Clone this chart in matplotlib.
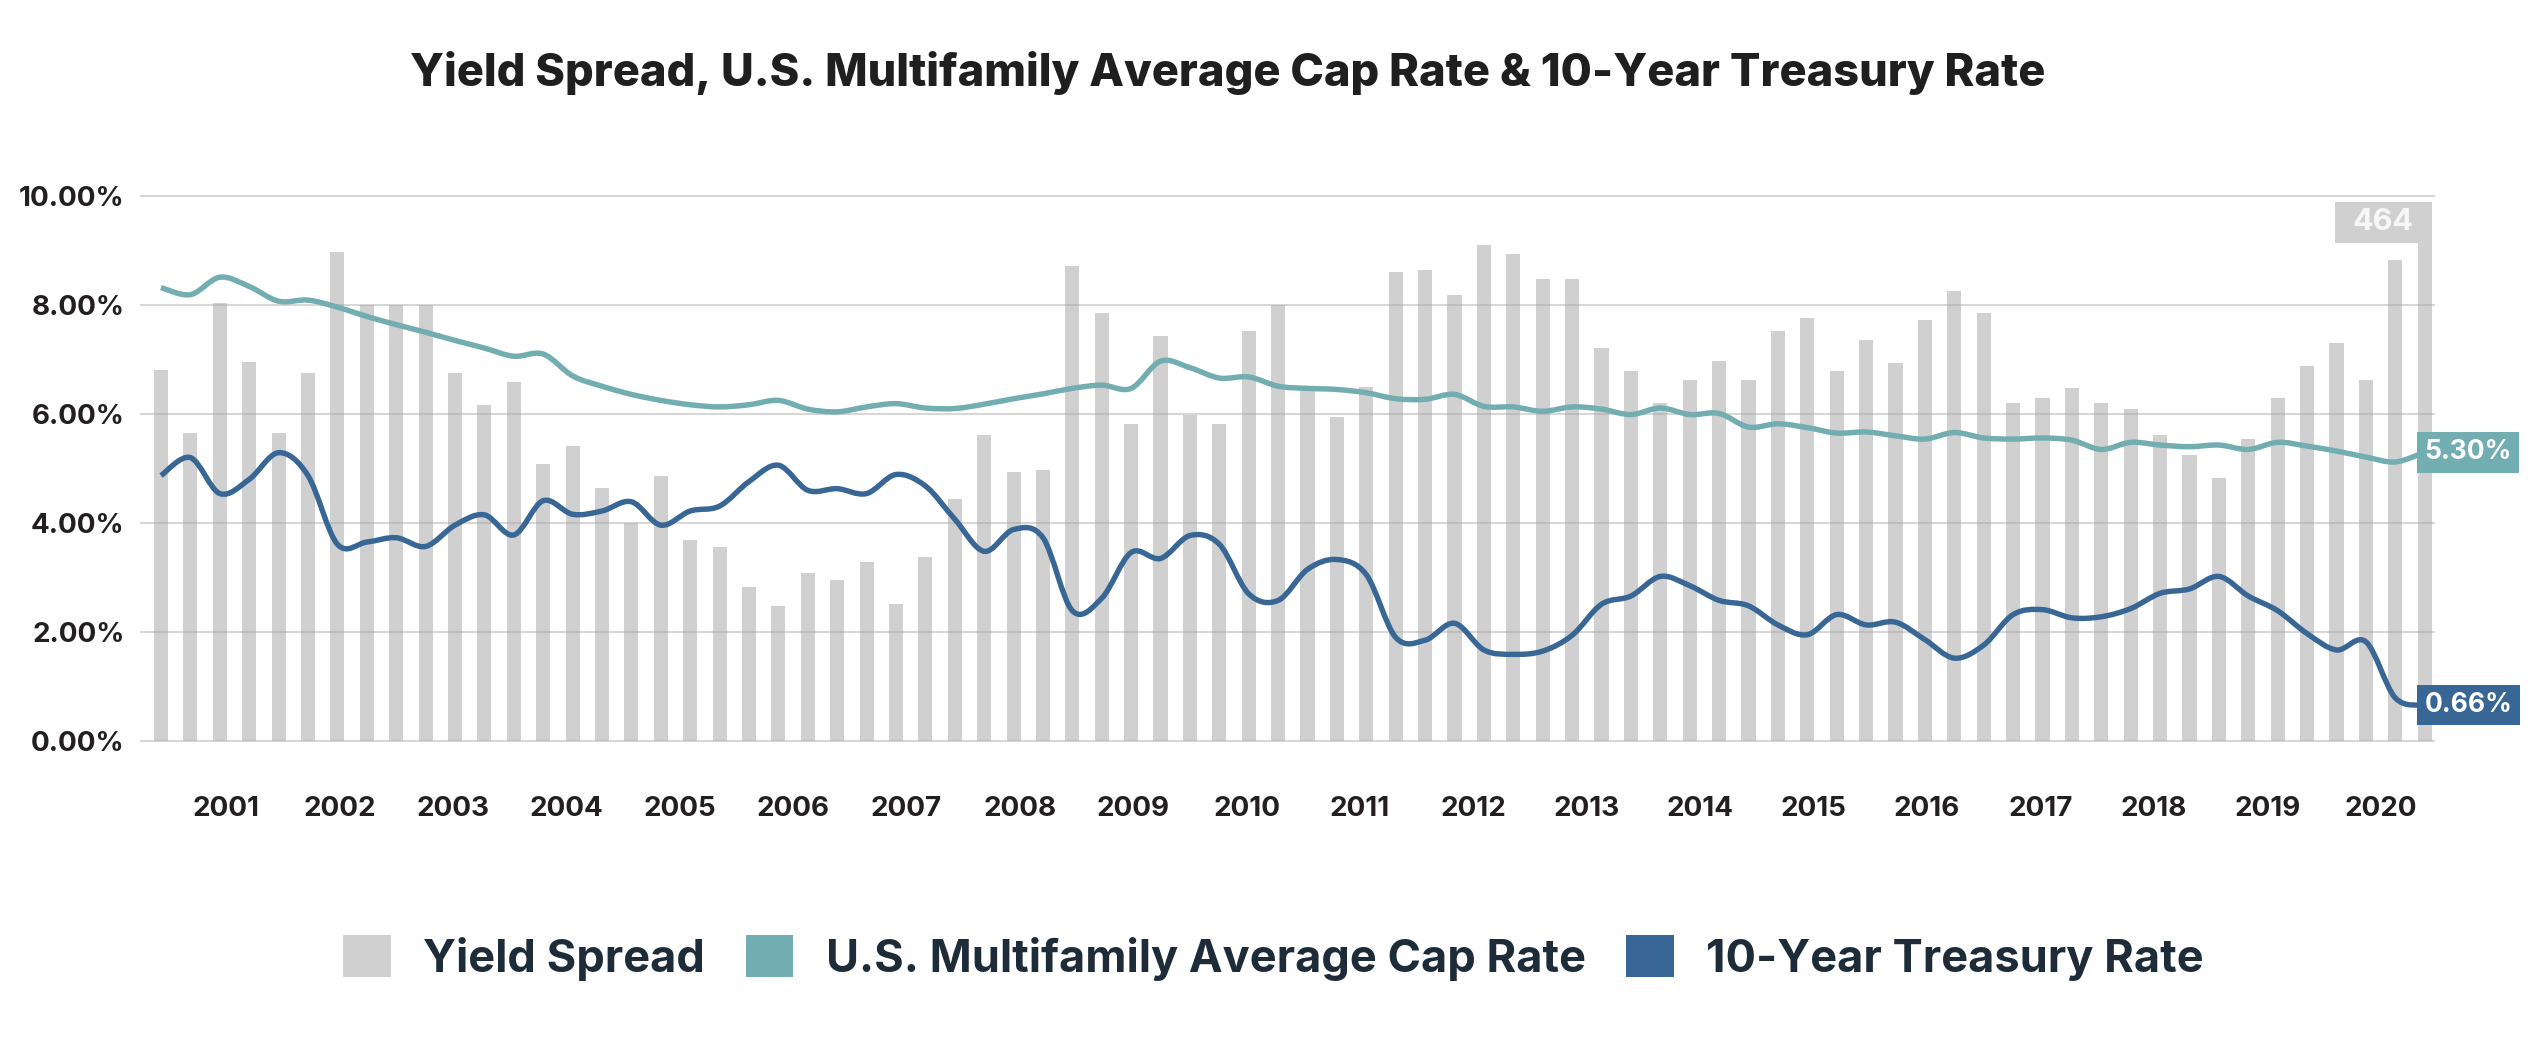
import numpy as np
import matplotlib
matplotlib.use("Agg")
import matplotlib.pyplot as plt
from matplotlib.path import Path
from matplotlib.patches import PathPatch, Patch, Rectangle

FONT = ['Inter', 'Lato', 'DejaVu Sans']
plt.rcParams['font.family'] = FONT

# ---------------- data ----------------
years = [str(y) for y in range(2001, 2021)]

# Yield spread (bps), one bar per quarter
spread_bps = [340, 283, 402, 348, 283, 338, 449, 400, 400, 400,
              338, 308, 329, 254, 271, 232, 200, 243, 184, 178,
              141, 124, 154, 148, 164, 126, 169, 222, 281, 247,
              249, 436, 393, 291, 372, 299, 291, 376, 400, 322,
              297, 325, 430, 432, 409, 455, 447, 424, 424, 361,
              339, 310, 331, 349, 331, 376, 388, 339, 368, 347,
              386, 413, 393, 310, 315, 324, 310, 305, 281, 262,
              241, 277, 315, 344, 365, 331, 441, 464]

# U.S. Multifamily average cap rate (%)
cap_rate = [8.32, 8.19, 8.51, 8.34, 8.07, 8.09, 7.96, 7.79, 7.64, 7.50,
            7.35, 7.21, 7.06, 7.10, 6.70, 6.51, 6.36, 6.25, 6.17, 6.13,
            6.17, 6.25, 6.09, 6.04, 6.13, 6.19, 6.11, 6.10, 6.18, 6.28,
            6.37, 6.47, 6.53, 6.47, 6.97, 6.85, 6.66, 6.68, 6.51, 6.47,
            6.45, 6.39, 6.28, 6.27, 6.36, 6.14, 6.13, 6.05, 6.13, 6.09,
            5.99, 6.11, 5.99, 6.01, 5.76, 5.82, 5.75, 5.65, 5.67, 5.60,
            5.54, 5.66, 5.56, 5.54, 5.56, 5.52, 5.35, 5.48, 5.43, 5.40,
            5.43, 5.35, 5.48, 5.41, 5.32, 5.21, 5.12, 5.30]

# 10-Year Treasury rate (%)
treasury = [4.87, 5.20, 4.54, 4.80, 5.29, 4.87, 3.61, 3.65, 3.73, 3.57,
            3.96, 4.15, 3.78, 4.41, 4.16, 4.22, 4.39, 3.96, 4.22, 4.31,
            4.76, 5.06, 4.60, 4.63, 4.54, 4.89, 4.68, 4.07, 3.48, 3.88,
            3.73, 2.39, 2.62, 3.46, 3.35, 3.77, 3.61, 2.70, 2.58, 3.15,
            3.33, 3.05, 1.90, 1.85, 2.16, 1.67, 1.59, 1.65, 1.94, 2.51,
            2.66, 3.02, 2.85, 2.58, 2.48, 2.13, 1.95, 2.32, 2.13, 2.18,
            1.86, 1.52, 1.76, 2.32, 2.41, 2.26, 2.28, 2.43, 2.71, 2.79,
            3.02, 2.66, 2.39, 1.97, 1.67, 1.82, 0.79, 0.66]

y_ticks = [0, 2, 4, 6, 8, 10]

title = "Yield Spread, U.S. Multifamily Average Cap Rate & 10-Year Treasury Rate"
legend_labels = ["Yield Spread", "U.S. Multifamily Average Cap Rate", "10-Year Treasury Rate"]

# ---------------- style ----------------
BAR = '#d0d0d0'
TEAL = '#72adb2'
BLUE = '#386796'
DARK = '#231f20'
NAVY = '#1e2b38'

W, H = 2528, 1054
fig = plt.figure(figsize=(W / 100, H / 100), dpi=100)

# plot area in pixels: 0% at y=741, 10% at y=196
y0_px, y10_px = 741, 196
ppu = (y0_px - y10_px) / 10.0
ylo, yhi = -0.1, 10.15
bot_px = y0_px - ylo * ppu
top_px = y0_px - yhi * ppu
left_px, right_px = 140, 2435
ax = fig.add_axes([left_px / W, 1 - bot_px / H, (right_px - left_px) / W, (bot_px - top_px) / H])
ax2 = ax.twinx()

n = len(spread_bps)
x = np.arange(n)
xl = (-0.714, n - 1 + 0.35)

# bars on secondary (bps) axis
ax2.bar(x, spread_bps, width=0.48, color=BAR, zorder=1)
ax2.set_ylim(ylo * 50, yhi * 50)
ax2.set_xlim(*xl)
ax2.axis('off')

ax.set_zorder(ax2.get_zorder() + 1)
ax.patch.set_visible(False)
ax.set_xlim(*xl)
ax.set_ylim(ylo, yhi)


def smooth_patch(xs, ys, color):
    xs = np.asarray(xs, float)
    ys = np.asarray(ys, float)
    m = len(xs)
    verts = [(xs[0], ys[0])]
    codes = [Path.MOVETO]
    for i in range(m - 1):
        a = i - 1 if i > 0 else i
        d = i + 2 if i + 2 < m else i + 1
        c1 = (xs[i] + (xs[i + 1] - xs[a]) / 6, ys[i] + (ys[i + 1] - ys[a]) / 6)
        c2 = (xs[i + 1] - (xs[d] - xs[i]) / 6, ys[i + 1] - (ys[d] - ys[i]) / 6)
        verts += [c1, c2, (xs[i + 1], ys[i + 1])]
        codes += [Path.CURVE4] * 3
    return PathPatch(Path(verts, codes), fill=False, edgecolor=color, lw=3.9,
                     capstyle='butt', joinstyle='round', zorder=3)


ax.add_patch(smooth_patch(x, cap_rate, TEAL))
ax.add_patch(smooth_patch(x, treasury, BLUE))

# grid
ax.set_yticks(y_ticks)
ax.set_yticklabels([f"{v:.2f}%" for v in y_ticks], fontsize=20, fontweight='bold', color=DARK)
ax.yaxis.grid(True, color='#a8a8a8', alpha=0.45, lw=1.5, zorder=2)
ax.set_axisbelow(False)
ax.tick_params(axis='y', length=0, pad=11)

tick_pos = np.linspace(2.21, 75.5, len(years))
ax.set_xticks(tick_pos)
ax.set_xticklabels(years, fontsize=20, fontweight='bold', color=DARK)
ax.tick_params(axis='x', length=0, pad=36)
for s in ax.spines.values():
    s.set_visible(False)

# end labels
last = n - 1
bw = 0.48
for val, col in [(cap_rate[-1], TEAL), (treasury[-1], BLUE)]:
    ax.annotate(f"{val:.2f}%", xy=(last - bw / 2, val), xytext=(7, 0),
                textcoords='offset pixels', ha='left', va='center', fontsize=19,
                fontweight='bold', color='white', zorder=5,
                bbox=dict(boxstyle='square,pad=0.28', fc=col, ec='none'))

# spread label box above the last bar
box_w, box_h = 3.3, 37.5
bx1 = last + bw / 2
by0 = spread_bps[-1] - 7
ax2.add_patch(Rectangle((bx1 - box_w, by0), box_w, box_h, fc=BAR, ec='none', zorder=4, clip_on=False))
ax2.text(bx1 - box_w / 2, by0 + box_h / 2, f"{spread_bps[-1]}", ha='center', va='center',
         fontsize=22, fontweight='bold', color='#f7f7f7', zorder=5)

# title
fig.text(0.4855, 1 - 73 / H, title, ha='center', va='center', fontsize=32.5,
         fontweight='heavy', color='#1f1f1f')

# legend
handles = [Patch(fc=BAR, ec='none'), Patch(fc=TEAL, ec='none'), Patch(fc=BLUE, ec='none')]
fig.legend(handles, legend_labels, loc='center', bbox_to_anchor=(0.5038, 1 - 958 / H),
           ncol=3, frameon=False, prop={'family': FONT, 'weight': 'bold', 'size': 32.5},
           labelcolor=NAVY, handlelength=1.05, handleheight=1.05, handletextpad=0.72,
           columnspacing=0.9, borderaxespad=0)

fig.savefig('out.png', dpi=100)
